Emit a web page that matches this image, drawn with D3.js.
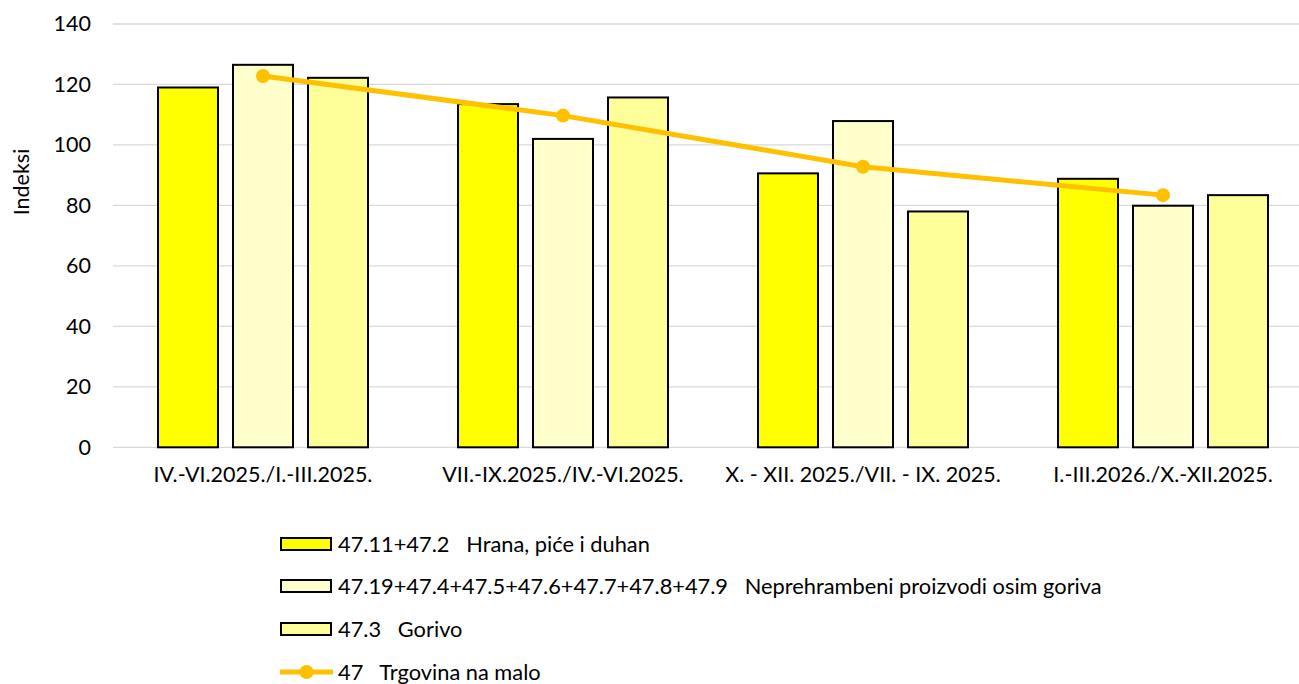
<!DOCTYPE html>
<html>
<head>
<meta charset="utf-8">
<script src="https://cdn.jsdelivr.net/npm/d3@7"></script>
<style>
  body { margin: 0; background: #fff; }
  text { font-family: Lato, "Open Sans", sans-serif; fill: #000; }
</style>
</head>
<body>
<svg id="chart" width="1299" height="684"></svg>
<script>
// chart data
const categories = ["IV.-VI.2025./I.-III.2025.", "VII.-IX.2025./IV.-VI.2025.", "X. - XII. 2025./VII. - IX. 2025.", "I.-III.2026./X.-XII.2025."];
const hrana = [119.0, 113.5, 90.6, 88.8];
const neprehrambeni = [126.5, 102.0, 107.9, 79.9];
const gorivo = [122.2, 115.7, 78.0, 83.4];
const trgovina = [122.8, 109.7, 92.8, 83.4];
const yTicks = [0, 20, 40, 60, 80, 100, 120, 140];

const barSeries = [
    { name: "47.11+47.2   Hrana, piće i duhan", values: hrana, color: "#FFFF00" },
    { name: "47.19+47.4+47.5+47.6+47.7+47.8+47.9   Neprehrambeni proizvodi osim goriva", values: neprehrambeni, color: "#FFFFCC" },
    { name: "47.3   Gorivo", values: gorivo, color: "#FFFF99" }
];
const lineName = "47   Trgovina na malo";
const lineColor = "#FFC000";
const fontSize = 21.5;
const fontFamily = "Lato, 'Open Sans', sans-serif";

const svg = d3.select("#chart");
const plotLeft = 113, plotRight = 1313, plotTop = 24, plotBottom = 447.3;

const x = d3.scaleBand().domain(categories).range([plotLeft, plotRight]);
const xs = d3.scaleBand().domain(d3.range(barSeries.length)).range([-105, 105]).paddingInner(0.2);
const y = d3.scaleLinear().domain([0, 140]).range([plotBottom, plotTop]);

// gridlines
svg.append("g")
    .selectAll("line")
    .data(yTicks)
    .join("line")
    .attr("x1", plotLeft)
    .attr("x2", 1299)
    .attr("y1", d => y(d))
    .attr("y2", d => y(d))
    .attr("stroke", "#d9d9d9")
    .attr("stroke-width", 1.3);

// y axis labels
const yAxis = svg.append("g")
    .attr("transform", `translate(${plotLeft - 22},0)`)
    .call(d3.axisLeft(y).tickValues(yTicks).tickSize(0).tickPadding(0));
yAxis.select(".domain").remove();
yAxis.selectAll("text").attr("font-size", fontSize).attr("font-family", fontFamily).attr("fill", "#000");

svg.append("text")
    .attr("transform", "translate(29,182) rotate(-90)")
    .attr("text-anchor", "middle")
    .attr("font-size", fontSize)
    .text("Indeksi");

// x axis labels
const xAxis = svg.append("g")
    .attr("transform", `translate(0,${plotBottom + 16})`)
    .call(d3.axisBottom(x).tickSize(0).tickPadding(0));
xAxis.select(".domain").remove();
xAxis.selectAll("text").attr("font-size", fontSize).attr("dy", "0.85em").attr("font-family", fontFamily).attr("fill", "#000");

// bars
barSeries.forEach((s, si) => {
    svg.append("g")
        .selectAll("rect")
        .data(s.values)
        .join("rect")
        .attr("x", (d, i) => x(categories[i]) + x.bandwidth() / 2 + xs(si))
        .attr("y", d => y(d))
        .attr("width", xs.bandwidth())
        .attr("height", d => plotBottom - y(d))
        .attr("fill", s.color)
        .attr("stroke", "#000")
        .attr("stroke-width", 2);
});

// line
const cx = (d, i) => x(categories[i]) + x.bandwidth() / 2;
svg.append("path")
    .datum(trgovina)
    .attr("fill", "none")
    .attr("stroke", lineColor)
    .attr("stroke-width", 5)
    .attr("stroke-linejoin", "round")
    .attr("d", d3.line().x(cx).y(d => y(d)));

svg.append("g")
    .selectAll("circle")
    .data(trgovina)
    .join("circle")
    .attr("cx", cx)
    .attr("cy", d => y(d))
    .attr("r", 7)
    .attr("fill", lineColor);

// legend
const legend = svg.append("g").attr("transform", "translate(280,0)");
const rowY = [544, 586, 629, 672];
const legendFont = 21.8;

barSeries.forEach((s, i) => {
    legend.append("rect")
        .attr("x", 1).attr("y", rowY[i] - 6)
        .attr("width", 50).attr("height", 12)
        .attr("fill", s.color)
        .attr("stroke", "#000")
        .attr("stroke-width", 2);
    legend.append("text")
        .attr("x", 58).attr("y", rowY[i])
        .attr("dy", "0.35em")
        .attr("font-size", legendFont)
        .style("white-space", "pre")
        .text(s.name);
});

legend.append("line")
    .attr("x1", 0).attr("x2", 53)
    .attr("y1", rowY[3]).attr("y2", rowY[3])
    .attr("stroke", lineColor)
    .attr("stroke-width", 5);
legend.append("circle")
    .attr("cx", 26.5).attr("cy", rowY[3])
    .attr("r", 7)
    .attr("fill", lineColor);
legend.append("text")
    .attr("x", 58).attr("y", rowY[3])
    .attr("dy", "0.35em")
    .attr("font-size", legendFont)
    .style("white-space", "pre")
    .text(lineName);
</script>
</body>
</html>
